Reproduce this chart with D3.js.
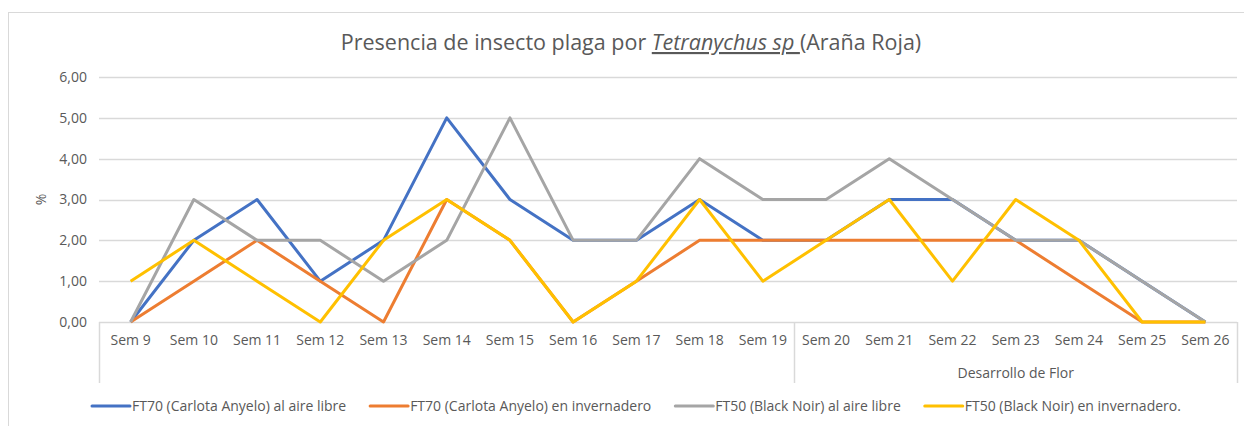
<!DOCTYPE html>
<html>
<head>
<meta charset="utf-8">
<script src="https://cdn.jsdelivr.net/npm/d3@7"></script>
<style>
  body { margin: 0; background: #fff; }
  text { font-family: 'Open Sans', sans-serif; fill: #595959; }
</style>
</head>
<body>
<script>
// chart values
var weeks = ['Sem 9', 'Sem 10', 'Sem 11', 'Sem 12', 'Sem 13', 'Sem 14', 'Sem 15', 'Sem 16', 'Sem 17',
  'Sem 18', 'Sem 19', 'Sem 20', 'Sem 21', 'Sem 22', 'Sem 23', 'Sem 24', 'Sem 25', 'Sem 26'];
var groups = [
  { label: '', from: 'Sem 9', to: 'Sem 19' },
  { label: 'Desarrollo de Flor', from: 'Sem 20', to: 'Sem 26' }
];
var seriesNames = [
  'FT70 (Carlota Anyelo) al aire libre',
  'FT70 (Carlota Anyelo) en invernadero',
  'FT50 (Black Noir) al aire libre',
  'FT50 (Black Noir) en invernadero.'
];
var seriesColors = ['#4472c4', '#ed7d31', '#a5a5a5', '#ffc000'];
var ft70Libre = [0, 2, 3, 1, 2, 5, 3, 2, 2, 3, 2, 2, 3, 3, 2, 2, 1, 0];
var ft70Inv = [0, 1, 2, 1, 0, 3, 2, 0, 1, 2, 2, 2, 2, 2, 2, 1, 0, 0];
var ft50Libre = [0, 3, 2, 2, 1, 2, 5, 2, 2, 4, 3, 3, 4, 3, 2, 2, 1, 0];
var ft50Inv = [1, 2, 1, 0, 2, 3, 2, 0, 1, 3, 1, 2, 3, 1, 3, 2, 0, 0];
var yTicks = [0, 1, 2, 3, 4, 5, 6];

var allSeries = [ft70Libre, ft70Inv, ft50Libre, ft50Inv];

var W = 1244, H = 426;
var plot = { left: 99, right: 1237, top: 77, bottom: 322 };
var fontSize = '14px';

var svg = d3.select('body').append('svg')
  .attr('width', W)
  .attr('height', H);

// chart border
svg.append('rect')
  .attr('x', 8.5).attr('y', 12.5)
  .attr('width', W).attr('height', H)
  .attr('fill', 'none')
  .attr('stroke', '#d9d9d9');

var x = d3.scaleBand().domain(weeks).range([plot.left, plot.right]);
var y = d3.scaleLinear().domain([0, 6]).range([plot.bottom, plot.top]);

var fmt = d3.formatLocale({ decimal: ',', thousands: '.', grouping: [3], currency: ['', ''] }).format('.2f');

// title
var title = svg.append('text')
  .attr('x', 631).attr('y', 50)
  .attr('text-anchor', 'middle')
  .style('font-size', '21.5px');
title.append('tspan').text('Presencia de insecto plaga por ');
title.append('tspan').attr('font-style', 'italic').attr('text-decoration', 'underline').text('Tetranychus sp\u00a0');
title.append('tspan').text('(Araña Roja)');

// gridlines
svg.append('g')
  .selectAll('line')
  .data(yTicks.filter(d => d > 0))
  .enter().append('line')
  .attr('x1', plot.left).attr('x2', plot.right)
  .attr('y1', d => Math.round(y(d)) + 0.5).attr('y2', d => Math.round(y(d)) + 0.5)
  .attr('stroke', '#d9d9d9').attr('stroke-width', 1.5);

// y axis labels
var yAxis = svg.append('g')
  .attr('transform', 'translate(' + (plot.left - 12) + ',0)')
  .call(d3.axisLeft(y).tickValues(yTicks).tickFormat(fmt).tickSize(0).tickPadding(0));
yAxis.select('.domain').remove();
yAxis.selectAll('text')
  .style('font-size', fontSize)
  .style('font-family', "'Open Sans', sans-serif")
  .attr('fill', '#595959');

svg.append('text')
  .attr('transform', 'translate(46,' + ((plot.top + plot.bottom) / 2) + ') rotate(-90)')
  .attr('text-anchor', 'middle')
  .style('font-size', fontSize)
  .text('%');

// x axis
var xAxis = svg.append('g')
  .attr('transform', 'translate(0,' + plot.bottom + ')')
  .call(d3.axisBottom(x).tickSize(0).tickPadding(13));
xAxis.select('.domain').remove();
xAxis.selectAll('text')
  .style('font-size', fontSize)
  .style('font-family', "'Open Sans', sans-serif")
  .attr('fill', '#595959');

svg.append('line')
  .attr('x1', plot.left).attr('x2', plot.right)
  .attr('y1', plot.bottom + 0.5).attr('y2', plot.bottom + 0.5)
  .attr('stroke', '#d9d9d9').attr('stroke-width', 1.5);

// group separators and labels
var sepX = [plot.left];
groups.forEach(g => sepX.push(x(g.to) + x.bandwidth()));
svg.append('g').selectAll('line')
  .data(sepX)
  .enter().append('line')
  .attr('x1', d => Math.round(d) + 0.5).attr('x2', d => Math.round(d) + 0.5)
  .attr('y1', plot.bottom).attr('y2', 383)
  .attr('stroke', '#d9d9d9').attr('stroke-width', 1.5);

svg.append('g').selectAll('text')
  .data(groups)
  .enter().append('text')
  .attr('x', g => (x(g.from) + x(g.to) + x.bandwidth()) / 2)
  .attr('y', 378)
  .attr('text-anchor', 'middle')
  .style('font-size', fontSize)
  .text(g => g.label);

// series lines
var line = d3.line()
  .x((d, i) => x(weeks[i]) + x.bandwidth() / 2)
  .y(d => y(d));

svg.append('g').selectAll('path')
  .data(allSeries)
  .enter().append('path')
  .attr('d', line)
  .attr('fill', 'none')
  .attr('stroke', (d, i) => seriesColors[i])
  .attr('stroke-width', 3)
  .attr('stroke-linejoin', 'round');

// legend
var legend = svg.append('g');
var lx = 92;
seriesNames.forEach((name, i) => {
  legend.append('line')
    .attr('x1', lx).attr('x2', lx + 38)
    .attr('y1', 406).attr('y2', 406)
    .attr('stroke', seriesColors[i])
    .attr('stroke-width', 3)
    .attr('stroke-linecap', 'round');
  var t = legend.append('text')
    .attr('x', lx + 40).attr('y', 411)
    .style('font-size', fontSize)
    .text(name);
  lx += 40 + t.node().getComputedTextLength() + 24;
});
</script>
</body>
</html>
